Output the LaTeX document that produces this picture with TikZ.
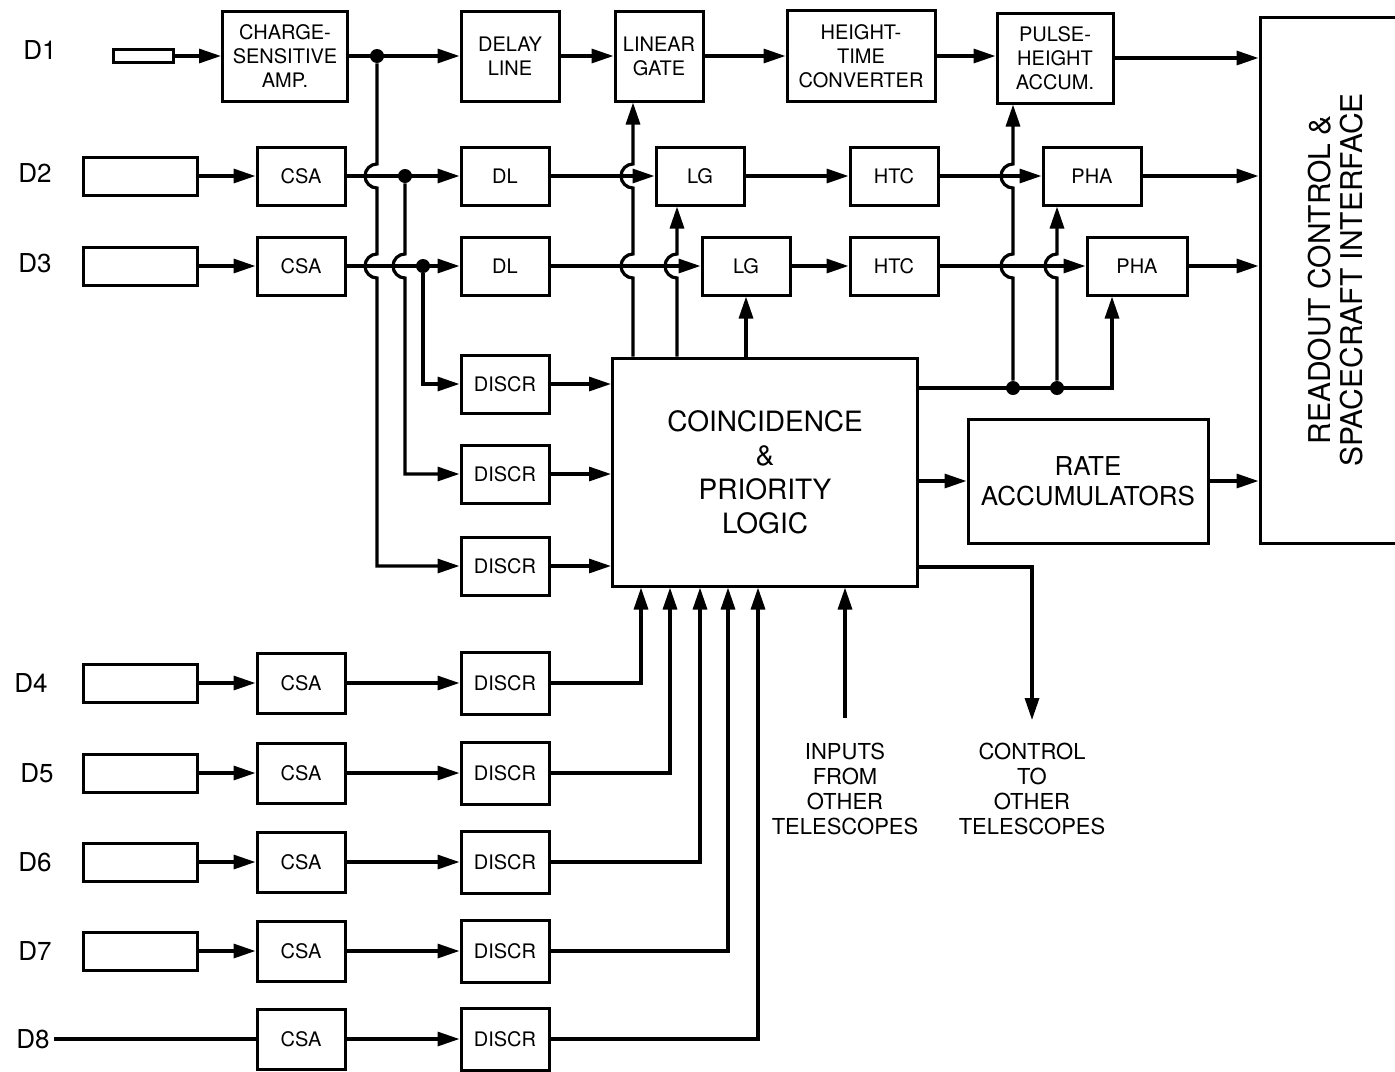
\documentclass[tikz,border=0pt]{standalone}
\usepackage{fontspec}
\setsansfont{TeX Gyre Heros}
\usetikzlibrary{arrows.meta,calc,positioning}

\begin{document}
\begin{tikzpicture}[
    x=0.5pt, y=-0.5pt,
    box/.style={draw, line width=1.5pt, align=center, inner sep=1pt,
      font=\sffamily\fontsize{10}{12}\selectfont},
    small/.style={box, minimum width=44pt, minimum height=29pt},
    det/.style={draw, line width=1.5pt, minimum width=57pt, minimum height=19pt, inner sep=0pt},
    lbl/.style={font=\sffamily\fontsize{13}{15}\selectfont, inner sep=2pt},
    note/.style={align=center, font=\sffamily\fontsize{11}{12.5}\selectfont},
    wire/.style={line width=1.6pt},
    sig/.style={wire, -{Triangle[length=11pt,width=7pt]}},
    dot/.style={circle, fill, inner sep=0pt, minimum size=7pt},
    hopdn/.style={insert path={arc[start angle=90,end angle=270,radius=6pt]}},
    hopup/.style={insert path={arc[start angle=270,end angle=90,radius=6pt]}},
]
\useasboundingbox (0,0) rectangle (1395,1071);
\clip (0,0) rectangle (1395,1071);

  % Row D1
  \node[lbl] (l1) at (40,50) {D1};
  \node[det, minimum width=30pt, minimum height=6.5pt] (det1) at (143,56) {};
  \node[box, minimum width=62.5pt, minimum height=45pt] (csa1) at (285,56) {CHARGE-\\SENSITIVE\\AMP.};
  \node[box, minimum width=49pt, minimum height=45pt] (dl1) at (510,56) {DELAY\\LINE};
  \node[box, minimum width=44pt, minimum height=45pt] (lg1) at (659,56) {LINEAR\\GATE};
  \node[box, minimum width=74pt, minimum height=45.5pt] (htc1) at (861,56) {HEIGHT-\\TIME\\CONVERTER};
  \node[box, minimum width=58pt, minimum height=45pt] (pha1) at (1055,58) {PULSE-\\HEIGHT\\ACCUM.};
  \node[box, rotate=90, minimum width=263pt, minimum height=76pt,
    font=\sffamily\fontsize{15}{16}\selectfont] (rdo) at (1336,280) {READOUT CONTROL \&\\SPACECRAFT INTERFACE};
  \node[dot] (j1) at (377,56) {};

  % Row D2
  \node[lbl] (l2) at (35,173) {D2};
  \node[det] (det2) at (140,176) {};
  \node[small] (csa2) at (301,176) {CSA};
  \node[dot] (j2) at (405,176) {};
  \node[small] (dl2) at (505,176) {DL};
  \node[small] (lg2) at (700,176) {LG};
  \node[small] (htc2) at (894,176) {HTC};
  \node[small, minimum width=49pt] (pha2) at (1092,176) {PHA};

  % Row D3
  \node[lbl] (l3) at (35,263) {D3};
  \node[det] (det3) at (140,266) {};
  \node[small] (csa3) at (301,266) {CSA};
  \node[dot] (j3) at (423,266) {};
  \node[small] (dl3) at (505,266) {DL};
  \node[small] (lg3) at (746,266) {LG};
  \node[small] (htc3) at (894,266) {HTC};
  \node[small, minimum width=50pt] (pha3) at (1137,266) {PHA};

  % Logic
  \node[small] (da) at (505,384) {DISCR};
  \node[small] (db) at (505,474) {DISCR};
  \node[small] (dc) at (505,566) {DISCR};
  \node[box, minimum width=152.5pt, minimum height=114pt,
    font=\sffamily\fontsize{14}{17}\selectfont] (coin) at (765,472) {COINCIDENCE\\\&\\PRIORITY\\LOGIC};
  \node[box, minimum width=120pt, minimum height=62pt,
    font=\sffamily\fontsize{13}{15}\selectfont] (rate) at (1088,481) {RATE\\ACCUMULATORS};
  \node[dot] (j4) at (1013,388) {};
  \node[dot] (j5) at (1057,388) {};
  \node[note] (inp) at (845,789) {INPUTS\\FROM\\OTHER\\TELESCOPES};
  \node[note] (ctl) at (1032,789) {CONTROL\\TO\\OTHER\\TELESCOPES};

  % Rows D4 - D8
  \node[lbl] (l4) at (31,683) {D4};
  \node[det] (det4) at (140,683) {};
  \node[small, minimum height=30pt] (csa4) at (301,683) {CSA};
  \node[small, minimum height=31pt] (disc4) at (505,683) {DISCR};
  \node[lbl] (l5) at (37,773) {D5};
  \node[det] (det5) at (140,773) {};
  \node[small, minimum height=30pt] (csa5) at (301,773) {CSA};
  \node[small, minimum height=31pt] (disc5) at (505,773) {DISCR};
  \node[lbl] (l6) at (35,862) {D6};
  \node[det] (det6) at (140,862) {};
  \node[small, minimum height=30pt] (csa6) at (301,862) {CSA};
  \node[small, minimum height=31pt] (disc6) at (505,862) {DISCR};
  \node[lbl] (l7) at (35,951) {D7};
  \node[det] (det7) at (140,951) {};
  \node[small, minimum height=30pt] (csa7) at (301,951) {CSA};
  \node[small, minimum height=31pt] (disc7) at (505,951) {DISCR};
  \node[lbl] (l8) at (33,1039) {D8};
  \node[small, minimum height=30pt] (csa8) at (301,1039) {CSA};
  \node[small, minimum height=31pt] (disc8) at (505,1039) {DISCR};

  % Links
  \draw[sig] (det1) -- (csa1);
  \draw[sig] (csa1) -- (dl1);
  \draw[sig] (dl1) -- (lg1);
  \draw[sig] (lg1) -- (htc1);
  \draw[sig] (htc1) -- (htc1 -| pha1.west);
  \draw[sig] (pha1) -- (pha1 -| rdo.north);

  \draw[sig] (det2) -- (csa2);
  \draw[sig] (csa2) -- (dl2);
  \draw[sig] (dl2) -- (lg2);
  \draw[sig] (lg2) -- (htc2);
  \draw[sig] (htc2) -- (pha2);
  \draw[sig] (pha2) -- (pha2 -| rdo.north);

  \draw[sig] (det3) -- (csa3);
  \draw[sig] (csa3) -- (dl3);
  \draw[sig] (dl3) -- (lg3);
  \draw[sig] (lg3) -- (htc3);
  \draw[sig] (htc3) -- (pha3);
  \draw[sig] (pha3) -- (pha3 -| rdo.north);

  % taps to discriminators
  \draw[sig] (j1) -- ([yshift=6pt]csa2.east -| j1) [hopdn] -- ([yshift=6pt]csa3.east -| j1) [hopdn] |- (dc.west);
  \draw[sig] (j2) -- ([yshift=6pt]csa3.east -| j2) [hopdn] |- (db.west);
  \draw[sig] (j3) |- (da.west);
  \draw[sig] (da) -- (da -| coin.west);
  \draw[sig] (db) -- (db -| coin.west);
  \draw[sig] (dc) -- (dc -| coin.west);

  % gates
  \draw[sig] (coin.north -| 633,0) -- ([yshift=-6pt]dl3.east -| 633,0) [hopup]
    -- ([yshift=-6pt]dl2.east -| 633,0) [hopup] -- (lg1.south -| 633,0);
  \draw[sig] (coin.north -| 677,0) -- ([yshift=-6pt]dl3.east -| 677,0) [hopup] -- (lg2.south -| 677,0);
  \draw[sig] (coin.north -| lg3.south) -- (lg3.south);

  % pulse-height strobes
  \draw[sig] (coin.east |- j4) -| (pha3.south -| 1112,0);
  \draw[sig] (j4) -- ([yshift=-6pt]htc3.east -| j4) [hopup]
    -- ([yshift=-6pt]htc2.east -| j4) [hopup] -- (pha1.south -| j4);
  \draw[sig] (j5) -- ([yshift=-6pt]htc3.east -| j5) [hopup] -- (pha2.south -| j5);

  \draw[sig] (coin.east |- rate.west) -- (rate.west);
  \draw[sig] (rate.east) -- (rate.east -| rdo.north);
  \draw[sig] (coin.east |- 0,567) -| ([yshift=8pt]ctl.north);
  \draw[sig] ([yshift=9pt]inp.north) -- (inp.north |- coin.south);

  % lower detectors
  \draw[sig] (det4) -- (csa4);
  \draw[sig] (csa4) -- (disc4);
  \draw[sig] (disc4) -| (coin.south -| 641,0);
  \draw[sig] (det5) -- (csa5);
  \draw[sig] (csa5) -- (disc5);
  \draw[sig] (disc5) -| (coin.south -| 670,0);
  \draw[sig] (det6) -- (csa6);
  \draw[sig] (csa6) -- (disc6);
  \draw[sig] (disc6) -| (coin.south -| 700,0);
  \draw[sig] (det7) -- (csa7);
  \draw[sig] (csa7) -- (disc7);
  \draw[sig] (disc7) -| (coin.south -| 728,0);
  \draw[wire] (l8) -- (csa8);
  \draw[sig] (csa8) -- (disc8);
  \draw[sig] (disc8) -| (coin.south -| 758,0);
\end{tikzpicture}
\end{document}
